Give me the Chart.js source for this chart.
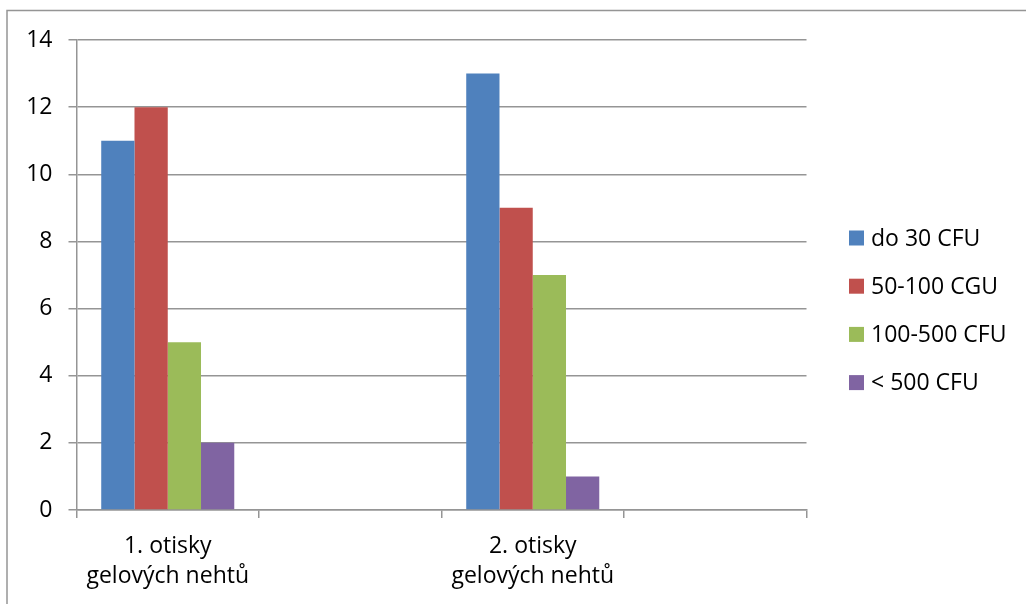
<!DOCTYPE html>
<html lang="cs">
<head>
<meta charset="utf-8">
<title>Otisky gelových nehtů – CFU</title>
<script src="https://cdn.jsdelivr.net/npm/chart.js@4"></script>
<style>
  html, body { margin: 0; padding: 0; background: #fff; }
  #wrap { position: relative; width: 1026px; height: 604px; overflow: hidden; }
  canvas { display: block; }
</style>
</head>
<body>
<div id="wrap"><canvas id="chart" width="1026" height="604"></canvas></div>
<script>
// Categories (the 2nd and 4th slots are empty spacers on the axis)
const categories = [["1. otisky", "gelových nehtů"], "", ["2. otisky", "gelových nehtů"], ""];

// Series labels and counts
const seriesNames = ["do 30 CFU", "50-100 CGU", "100-500 CFU", "< 500 CFU"];
const do30 = [11, null, 13, null];
const s50to100 = [12, null, 9, null];
const s100to500 = [5, null, 7, null];
const over500 = [2, null, 1, null];

// Y-axis ticks
const yTicks = [0, 2, 4, 6, 8, 10, 12, 14];

const colors = ["#4F81BD", "#C0504D", "#9BBB59", "#8064A2"];
const seriesValues = [do30, s50to100, s100to500, over500];

const FONT = "'Open Sans', 'Liberation Sans', sans-serif";
const FONT_SIZE = 23;
const GRID = "#959595";

// Outer frame (top and left edges) behind the chart
const framePlugin = {
  id: "frame",
  beforeDraw(chart) {
    const ctx = chart.ctx;
    ctx.save();
    ctx.strokeStyle = GRID;
    ctx.lineWidth = 1.5;
    ctx.beginPath();
    ctx.moveTo(7, chart.height + 5);
    ctx.lineTo(7, 10.5);
    ctx.lineTo(chart.width + 5, 10.5);
    ctx.stroke();
    ctx.restore();
  }
};

// Legend to the right of the plot, built from the datasets
const sideLegend = {
  id: "sideLegend",
  afterDraw(chart, args, opts) {
    const ctx = chart.ctx;
    ctx.save();
    ctx.font = opts.fontSize + "px " + FONT;
    ctx.textBaseline = "middle";
    ctx.textAlign = "left";
    chart.data.datasets.forEach((ds, i) => {
      const cy = opts.y + i * opts.spacing;
      ctx.fillStyle = ds.backgroundColor;
      ctx.fillRect(opts.x, cy - opts.box / 2, opts.box, opts.box);
      ctx.fillStyle = "#000";
      ctx.fillText(ds.label, opts.x + opts.box + opts.gap, cy + 1);
    });
    ctx.restore();
  }
};

new Chart(document.getElementById("chart"), {
  type: "bar",
  data: {
    labels: categories,
    datasets: seriesNames.map((name, i) => ({
      label: name,
      data: seriesValues[i],
      backgroundColor: colors[i],
      borderWidth: 0,
      categoryPercentage: 0.729,
      barPercentage: 1.0
    }))
  },
  options: {
    responsive: false,
    animation: false,
    layout: { padding: { left: 0, top: 40, right: 219.5, bottom: 0 } },
    plugins: {
      legend: { display: false },
      tooltip: { enabled: false },
      sideLegend: { x: 849, y: 238, spacing: 48.2, box: 15, gap: 7, fontSize: FONT_SIZE }
    },
    scales: {
      x: {
        grid: {
          offset: true,
          drawOnChartArea: false,
          drawTicks: true,
          tickLength: 8,
          color: GRID,
          lineWidth: 1.5
        },
        border: { display: true, color: GRID, width: 1.5 },
        ticks: {
          autoSkip: false,
          maxRotation: 0,
          minRotation: 0,
          padding: 13,
          color: "#000",
          font: { family: FONT, size: FONT_SIZE, lineHeight: 1.33 }
        },
        afterFit(scale) { scale.height = 94; }
      },
      y: {
        min: 0,
        max: 14,
        afterBuildTicks(scale) { scale.ticks = yTicks.map(v => ({ value: v })); },
        grid: {
          drawTicks: true,
          tickLength: 8,
          color: GRID,
          lineWidth: 1.5
        },
        border: { display: true, color: GRID, width: 1.5 },
        ticks: {
          padding: 16,
          color: "#000",
          font: { family: FONT, size: FONT_SIZE }
        },
        afterFit(scale) { scale.width = 76.5; }
      }
    }
  },
  plugins: [framePlugin, sideLegend]
});
</script>
</body>
</html>
